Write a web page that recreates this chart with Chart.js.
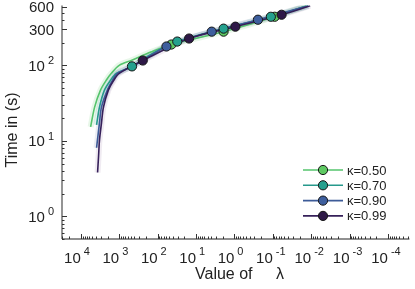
<!DOCTYPE html>
<html>
<head>
<meta charset="utf-8">
<script src="https://cdn.jsdelivr.net/npm/chart.js@4.4.0/dist/chart.umd.min.js"></script>
<style>
  html, body { margin: 0; padding: 0; background: #fff; }
  #wrap { width: 415px; height: 289px; }
</style>
</head>
<body>
<div id="wrap"><canvas id="chart" width="415" height="289"></canvas></div>
<script>
// Series names and colours
const kappaLabels = ['\u03ba=0.50', '\u03ba=0.70', '\u03ba=0.90', '\u03ba=0.99'];
const lineColors = ['#55c46c', '#26998c', '#3d5b98', '#36205a'];
const markerColors = ['#5ec962', '#24a08e', '#3e5f9e', '#2e1847'];
const bandColors = ['rgba(94,201,98,0.14)', 'rgba(33,145,140,0.12)', 'rgba(59,82,139,0.10)', 'rgba(68,1,84,0.08)'];

// Curves: value of lambda -> time in seconds
const lambda050 = [5550, 4370, 3070, 2200, 1600, 1000, 470, 150, 43.8, 1.91, 0.089, 0.0134];
const time050   = [15.3, 28, 47, 63, 78.5, 100, 117, 150, 189, 280, 441, 617];
const lambda070 = [3890, 3260, 2425, 1700, 1194, 464, 150, 30.7, 1.91, 0.112, 0.0119];
const time070   = [16.3, 28, 47, 63, 78.5, 97, 140, 207, 307, 441, 617];
const lambda090 = [3890, 3260, 2895, 2030, 1500, 1125, 400, 58.8, 3.89, 0.243, 0.0119];
const time090   = [8.1, 17.3, 28, 47, 63, 78.5, 100, 178, 280, 403, 617];
const lambda099 = [3660, 3450, 3260, 2895, 2570, 1914, 1400, 1000, 243, 15.1, 0.94, 0.0588, 0.0106];
const time099   = [3.8, 6.2, 10.3, 17.3, 28, 47, 63, 78.5, 116, 227, 326, 469, 617];

// Marked points on each curve
const markLambda050 = [43.8, 1.91, 0.089];
const markTime050   = [189, 280, 441];
const markLambda070 = [464, 30.7, 1.91, 0.112];
const markTime070   = [97, 207, 307, 441];
const markLambda090 = [58.8, 3.89, 0.243];
const markTime090   = [178, 280, 403];
const markLambda099 = [243, 15.1, 0.94, 0.0588];
const markTime099   = [116, 227, 326, 469];

// Axis ticks
const xTickExps = [4, 3, 2, 1, 0, -1, -2, -3, -4];
const yTickExps = [0, 1, 2];
const yTickPlain = [300, 600];

const curves = [[lambda050, time050], [lambda070, time070], [lambda090, time090], [lambda099, time099]];
const marks = [[markLambda050, markTime050], [markLambda070, markTime070], [markLambda090, markTime090], [markLambda099, markTime099]];

function toPoints(xs, ys) {
    return xs.map((x, i) => ({ x: x, y: ys[i] }));
}

const datasets = [];
curves.forEach((c, i) => {
    datasets.push({
        data: toPoints(c[0], c[1]),
        borderColor: bandColors[i],
        borderWidth: 6,
        pointRadius: 0,
        tension: 0.3,
        order: 40 - i
    });
});
curves.forEach((c, i) => {
    datasets.push({
        data: toPoints(c[0], c[1]),
        borderColor: lineColors[i],
        borderWidth: 1.6,
        pointRadius: 0,
        tension: 0.3,
        order: 30 - i
    });
});
marks.forEach((m, i) => {
    datasets.push({
        data: toPoints(m[0], m[1]),
        showLine: false,
        pointRadius: 4.6,
        pointBackgroundColor: markerColors[i],
        pointBorderColor: '#151515',
        pointBorderWidth: 1,
        order: 10 - i
    });
});

const FONT = "'Liberation Sans', Arial, sans-serif";
const TEXT = '#222';

// Axes, inward ticks, power-of-ten labels, titles and legend
const axesPlugin = {
    id: 'axesPlugin',
    afterDraw(chart) {
        const ctx = chart.ctx;
        const xs = chart.scales.x, ys = chart.scales.y;
        const area = chart.chartArea;
        ctx.save();

        // axis lines
        ctx.strokeStyle = '#707070';
        ctx.lineWidth = 1.5;
        ctx.beginPath();
        ctx.moveTo(area.left, area.top);
        ctx.lineTo(area.left, area.bottom);
        ctx.stroke();
        ctx.strokeStyle = '#222';
        ctx.lineWidth = 1.2;
        ctx.beginPath();
        ctx.moveTo(area.left, area.bottom);
        ctx.lineTo(area.right, area.bottom);
        ctx.stroke();

        // x ticks
        ctx.lineWidth = 1;
        ctx.strokeStyle = '#333';
        for (let e = -5; e <= 4; e++) {
            for (let m = 1; m <= 9; m++) {
                const v = m * Math.pow(10, e);
                if (v < xs.min || v > xs.max) continue;
                const px = Math.round(xs.getPixelForValue(v)) + 0.5;
                const len = m === 1 ? 5 : 2.5;
                ctx.beginPath();
                ctx.moveTo(px, area.bottom);
                ctx.lineTo(px, area.bottom - len);
                ctx.stroke();
            }
        }
        // y ticks
        for (let e = -1; e <= 2; e++) {
            for (let m = 1; m <= 9; m++) {
                const v = m * Math.pow(10, e);
                if (v < ys.min || v > ys.max) continue;
                const py = Math.round(ys.getPixelForValue(v)) + 0.5;
                const len = (m === 1 || v === 300 || v === 600) ? 5 : 2.5;
                ctx.beginPath();
                ctx.moveTo(area.left, py);
                ctx.lineTo(area.left + len, py);
                ctx.stroke();
            }
        }

        ctx.fillStyle = TEXT;
        ctx.textBaseline = 'alphabetic';

        // x tick labels: 10 with exponent
        xTickExps.forEach(e => {
            const px = xs.getPixelForValue(Math.pow(10, e));
            ctx.font = '15px ' + FONT;
            ctx.textAlign = 'right';
            ctx.fillText('10', px, 263);
            ctx.font = '11px ' + FONT;
            ctx.textAlign = 'left';
            ctx.fillText(String(e), px + 3, 255);
        });

        // y tick labels
        const yRight = 54;
        yTickExps.forEach(e => {
            const py = ys.getPixelForValue(Math.pow(10, e));
            ctx.font = '11px ' + FONT;
            ctx.textAlign = 'right';
            ctx.fillText(String(e), yRight, py - 1);
            const w = ctx.measureText(String(e)).width;
            ctx.font = '15px ' + FONT;
            ctx.fillText('10', yRight - w - 3, py + 5.5);
        });
        yTickPlain.forEach(v => {
            const py = ys.getPixelForValue(v);
            ctx.font = '15px ' + FONT;
            ctx.textAlign = 'right';
            ctx.fillText(String(v), yRight, py + 5.5);
        });

        // axis titles
        ctx.font = '16px ' + FONT;
        ctx.textAlign = 'left';
        ctx.fillText('Value of', 195, 279);
        ctx.fillText('\u03bb', 276, 279);
        ctx.save();
        ctx.translate(17, 130);
        ctx.rotate(-Math.PI / 2);
        ctx.textAlign = 'center';
        ctx.fillText('Time in (s)', 0, 0);
        ctx.restore();

        // legend
        ctx.font = '13px ' + FONT;
        ctx.textAlign = 'left';
        ctx.textBaseline = 'middle';
        kappaLabels.forEach((lab, i) => {
            const ly = 170 + i * 15.3;
            ctx.strokeStyle = lineColors[i];
            ctx.lineWidth = 1.6;
            ctx.beginPath();
            ctx.moveTo(303, ly);
            ctx.lineTo(343, ly);
            ctx.stroke();
            ctx.beginPath();
            ctx.arc(323, ly, 4.6, 0, Math.PI * 2);
            ctx.fillStyle = markerColors[i];
            ctx.fill();
            ctx.strokeStyle = '#151515';
            ctx.lineWidth = 1;
            ctx.stroke();
            ctx.fillStyle = TEXT;
            ctx.fillText(lab, 347, ly + 1);
        });

        ctx.restore();
    }
};

new Chart(document.getElementById('chart'), {
    type: 'line',
    data: { datasets: datasets },
    options: {
        responsive: false,
        animation: false,
        devicePixelRatio: 1,
        layout: { padding: { left: 62, right: 0, top: 5, bottom: 50 } },
        plugins: { legend: { display: false }, tooltip: { enabled: false } },
        scales: {
            x: {
                type: 'logarithmic',
                reverse: true,
                display: false,
                min: Math.pow(10, -4.56),
                max: Math.pow(10, 4.49)
            },
            y: {
                type: 'logarithmic',
                display: false,
                min: 0.5,
                max: 620
            }
        }
    },
    plugins: [axesPlugin]
});
</script>
</body>
</html>
